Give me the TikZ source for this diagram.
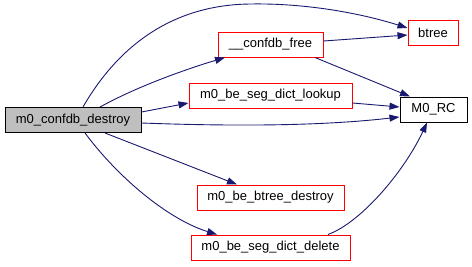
\documentclass[tikz,border=0pt]{standalone}
\usepackage{fontspec}
\setmainfont{Liberation Sans}
\usetikzlibrary{arrows.meta}
\definecolor{edgeblue}{HTML}{191970}
\definecolor{boxred}{HTML}{FF0000}
\definecolor{rootgray}{HTML}{BFBFBF}
\tikzset{
  fn/.style={draw=boxred, fill=white, line width=1pt, inner sep=0pt,
             minimum height=25pt, font=\fontsize{13}{15}\selectfont},
  leaf/.style={fn, draw=black},
  root/.style={fn, draw=black, fill=rootgray},
  call/.style={draw=edgeblue, line width=0.9pt,
               -{Triangle[length=10pt,width=7pt,fill=edgeblue]}},
}
\begin{document}
\begin{tikzpicture}[x=1pt,y=-1pt]
  \useasboundingbox (0,0) rectangle (472,266);
  % functions
  \node[root, minimum width=136pt] (destroy) at (73,120) {m0\_confdb\_destroy};
  \node[fn, minimum width=105pt]   (free)    at (270.5,44.5) {\_\_confdb\_free};
  \node[fn, minimum width=50pt]    (btree)   at (433,33) {btree};
  \node[fn, minimum width=163pt]   (lookup)  at (270.5,95.5) {m0\_be\_seg\_dict\_lookup};
  \node[leaf, minimum width=67pt]  (rc)      at (433.5,109.5) {M0\_RC};
  \node[fn, minimum width=147pt]   (btdel)   at (270.5,197.5) {m0\_be\_btree\_destroy};
  \node[fn, minimum width=159pt]   (segdel)  at (270.5,247.5) {m0\_be\_seg\_dict\_delete};
  % calls from m0_confdb_destroy
  \draw[call] (destroy.north west -| 83,0) .. controls (110,60) and (160,5) .. (250,4)
              .. controls (305,3) and (360,13) .. (btree.west |- 0,28);
  \draw[call] (destroy.north west -| 100,0) .. controls (140,85) and (190,68) .. (free.south west -| 225,0);
  \draw[call] (destroy.east |- 0,112) -- (lookup.west |- 0,103);
  \draw[call] (destroy.east |- 0,123) .. controls (250,127) and (330,125) .. (rc.west |- 0,117);
  \draw[call] (destroy.south west -| 105,0) -- (btdel.north west -| 237,0);
  \draw[call] (destroy.south west -| 85,0) .. controls (120,180) and (170,220) .. (segdel.north west -| 217,0);
  % calls further down
  \draw[call] (free.east |- 0,41) -- (btree.west |- 0,35);
  \draw[call] (free.south west -| 315,0) -- (rc.north west -| 410,0);
  \draw[call] (lookup.east |- 0,103) -- (rc.west |- 0,107);
  \draw[call] (segdel.north west -| 328,0) .. controls (362,222) and (405,170) .. (rc.south west -| 427,0);
\end{tikzpicture}
\end{document}
